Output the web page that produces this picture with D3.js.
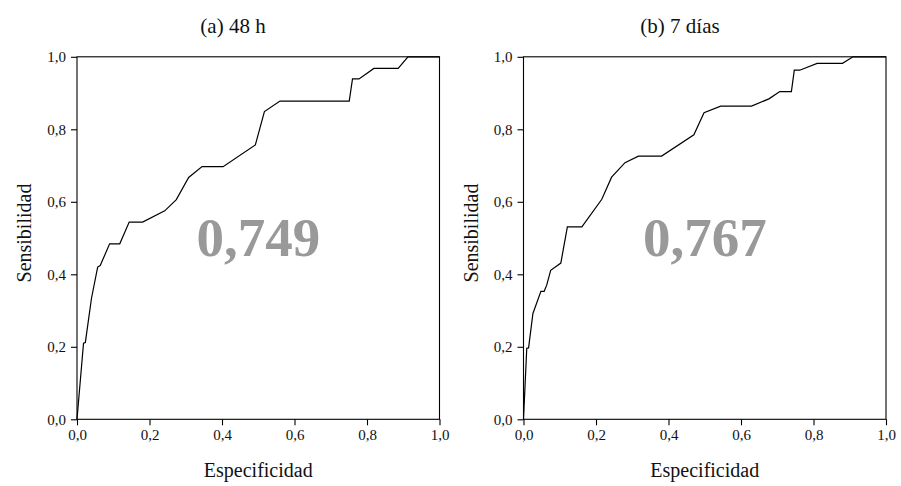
<!DOCTYPE html>
<html>
<head>
<meta charset="utf-8">
<script src="https://cdn.jsdelivr.net/npm/d3@7"></script>
<style>
  html, body { margin: 0; padding: 0; background: #fff; }
  svg { display: block; font-family: "Liberation Serif", "DejaVu Serif", serif; }
</style>
</head>
<body>
<svg id="chart" width="901" height="486"></svg>
<script>
// ROC curves, (a) 48 h and (b) 7 días
const titles = ['(a) 48 h', '(b) 7 días']
const aucLabels = ['0,749', '0,767']

// 48 h: false positive rate (x) / sensitivity (y)
const fpr48 = [0, 0.018, 0.023, 0.040, 0.057, 0.064, 0.090, 0.118, 0.144, 0.181, 0.242, 0.274, 0.308, 0.345, 0.403, 0.492, 0.517, 0.560, 0.751, 0.760, 0.778, 0.819, 0.886, 0.913, 1.0]
const sens48 = [0, 0.210, 0.212, 0.334, 0.420, 0.424, 0.484, 0.484, 0.544, 0.544, 0.575, 0.606, 0.667, 0.697, 0.697, 0.757, 0.849, 0.878, 0.878, 0.939, 0.939, 0.968, 0.968, 1.0, 1.0]

// 7 días
const fpr7d = [0, 0.009, 0.014, 0.026, 0.048, 0.057, 0.064, 0.075, 0.103, 0.121, 0.161, 0.216, 0.243, 0.280, 0.317, 0.381, 0.470, 0.498, 0.544, 0.629, 0.677, 0.707, 0.739, 0.747, 0.762, 0.810, 0.880, 0.909, 1.0]
const sens7d = [0, 0.196, 0.197, 0.292, 0.353, 0.353, 0.370, 0.411, 0.431, 0.531, 0.531, 0.607, 0.668, 0.708, 0.726, 0.726, 0.785, 0.846, 0.864, 0.864, 0.884, 0.904, 0.904, 0.963, 0.963, 0.982, 0.982, 1.0, 1.0]

const tickVals = [0, 0.2, 0.4, 0.6, 0.8, 1.0]
const tickLabels = ['0,0', '0,2', '0,4', '0,6', '0,8', '1,0']

const panels = [
  { x: fpr48, y: sens48, left: 77, titleX: 233 },
  { x: fpr7d, y: sens7d, left: 523.5, titleX: 680 }
]

const SIZE = 362.5
const TOP = 56.8
const TICK = 6

const svg = d3.select('#chart')

panels.forEach((p, i) => {
  const xs = d3.scaleLinear().domain([0, 1]).range([0, SIZE])
  const ys = d3.scaleLinear().domain([0, 1]).range([SIZE, 0])

  const g = svg.append('g').attr('transform', `translate(${p.left},${TOP})`)

  // title
  svg.append('text')
    .attr('x', p.titleX)
    .attr('y', 33)
    .attr('text-anchor', 'middle')
    .style('font-size', '21px')
    .style('fill', '#111')
    .text(titles[i])

  // frame
  g.append('rect')
    .attr('x', 0).attr('y', 0)
    .attr('width', SIZE).attr('height', SIZE)
    .attr('fill', 'none')
    .attr('stroke', '#000')
    .attr('stroke-width', 1.1)

  // axes
  const xAxis = d3.axisBottom(xs).tickValues(tickVals)
    .tickFormat((d, k) => tickLabels[k]).tickSize(TICK).tickPadding(4)
  const yAxis = d3.axisLeft(ys).tickValues(tickVals)
    .tickFormat((d, k) => tickLabels[k]).tickSize(TICK).tickPadding(5)

  const gx = g.append('g').attr('transform', `translate(0,${SIZE})`).call(xAxis)
  const gy = g.append('g').call(yAxis)
  ;[gx, gy].forEach(a => {
    a.select('.domain').remove()
    a.selectAll('.tick line').attr('stroke', '#000').attr('stroke-width', 1.1)
    a.selectAll('.tick text')
      .style('font-family', '"Liberation Serif", serif')
      .style('font-size', '15px')
      .style('fill', '#111')
  })

  // AUC label
  g.append('text')
    .attr('x', xs(0.5))
    .attr('y', ys(0.45))
    .attr('text-anchor', 'middle')
    .style('font-size', '55px')
    .style('font-weight', 'bold')
    .style('fill', '#999')
    .text(aucLabels[i])

  // ROC line
  const pts = p.x.map((v, k) => [v, p.y[k]])
  g.append('path')
    .datum(pts)
    .attr('fill', 'none')
    .attr('stroke', '#000')
    .attr('stroke-width', 1.2)
    .attr('d', d3.line().x(d => xs(d[0])).y(d => ys(d[1])))

  // axis titles
  svg.append('text')
    .attr('x', p.left + SIZE / 2)
    .attr('y', 477)
    .attr('text-anchor', 'middle')
    .style('font-size', '20px')
    .style('fill', '#111')
    .text('Especificidad')

  svg.append('text')
    .attr('transform', `translate(${p.left - 46},${TOP + SIZE / 2 - 5}) rotate(-90)`)
    .attr('text-anchor', 'middle')
    .style('font-size', '20px')
    .style('fill', '#111')
    .text('Sensibilidad')
})
</script>
</body>
</html>
